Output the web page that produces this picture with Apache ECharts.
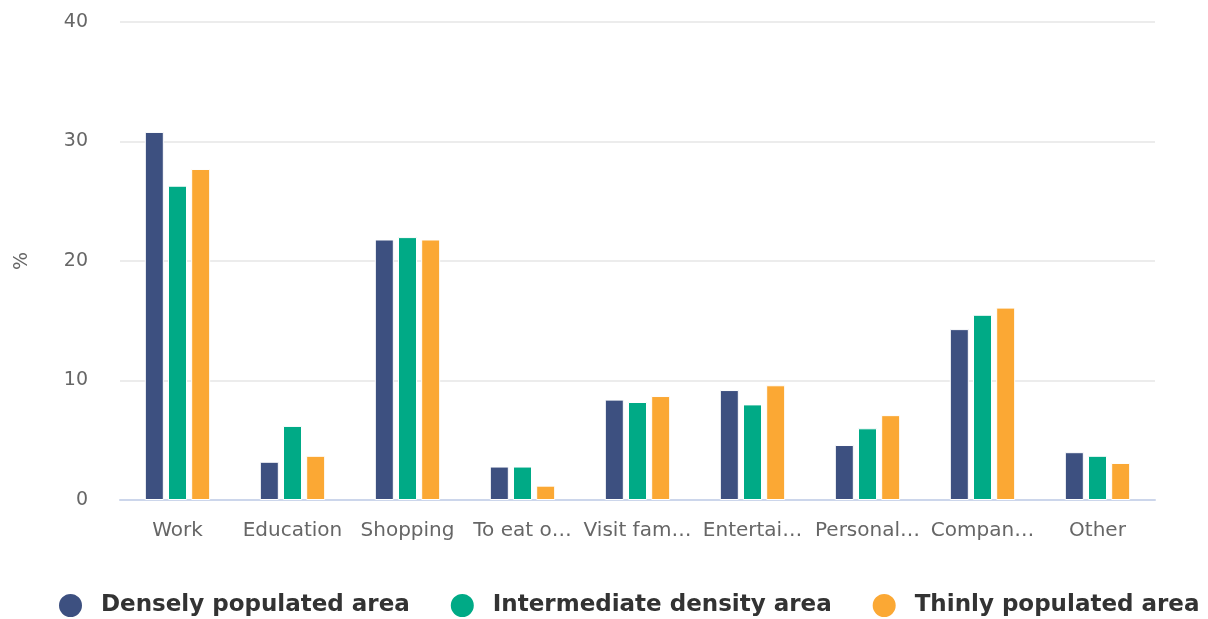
<!DOCTYPE html>
<html>
<head>
<meta charset="utf-8">
<script src="https://cdn.jsdelivr.net/npm/echarts@6/dist/echarts.min.js"></script>
<style>
  html, body { margin: 0; padding: 0; background: #fff; }
  #chart { width: 1208px; height: 619px; }
</style>
</head>
<body>
<div id="chart"></div>
<script>
// Trip purposes by degree of urbanisation (%)
const categories = ['Work', 'Education', 'Shopping', 'To eat out', 'Visit family or friends',
  'Entertainment', 'Personal matters', 'Companion or escort', 'Other'];
// shortened forms shown under the axis
const tickLabels = ['Work', 'Education', 'Shopping', 'To eat o…', 'Visit fam…',
  'Entertai…', 'Personal…', 'Compan…', 'Other'];
const densely = [30.8, 3.2, 21.8, 2.8, 8.4, 9.2, 4.6, 14.3, 4.0];
const intermediate = [26.3, 6.2, 22.0, 2.8, 8.2, 8.0, 6.0, 15.5, 3.7];
const thinly = [27.7, 3.7, 21.8, 1.2, 8.7, 9.6, 7.1, 16.1, 3.1];
const seriesNames = ['Densely populated area', 'Intermediate density area', 'Thinly populated area'];
const colors = ['#3d5080', '#00aa86', '#fba834'];

const chart = echarts.init(document.getElementById('chart'));
const font = 'DejaVu Sans';

function bar(name, data, color) {
  return {
    name, type: 'bar', data,
    barWidth: 19, barGap: '22%',
    itemStyle: { color, borderColor: '#fff', borderWidth: 1 }
  };
}

chart.setOption({
  animation: false,
  color: colors,
  grid: { left: 120, right: 53, top: 22, bottom: 119 },
  legend: {
    top: 587, left: 52,
    icon: 'circle', itemWidth: 25, itemHeight: 25, itemGap: 39,
    textStyle: {
      fontFamily: font, fontWeight: 'bold', fontSize: 23, color: '#333',
      padding: [0, 0, 0, 13]
    }
  },
  xAxis: {
    type: 'category', data: categories,
    axisLine: { lineStyle: { color: '#ccd6eb', width: 2 } },
    axisTick: { show: false },
    axisLabel: {
      color: '#666', fontFamily: font, fontSize: 20, margin: 21, interval: 0,
      formatter: (value, index) => tickLabels[index]
    }
  },
  yAxis: {
    type: 'value', min: 0, max: 40, interval: 10,
    name: '%', nameLocation: 'middle', nameGap: 88, nameRotate: 90,
    nameTextStyle: { color: '#666', fontFamily: font, fontSize: 19 },
    axisLabel: { color: '#666', fontFamily: font, fontSize: 19, margin: 32 },
    splitLine: { lineStyle: { color: '#e6e6e6', width: 1.5 } }
  },
  series: [
    bar(seriesNames[0], densely, colors[0]),
    bar(seriesNames[1], intermediate, colors[1]),
    bar(seriesNames[2], thinly, colors[2])
  ]
});
</script>
</body>
</html>
